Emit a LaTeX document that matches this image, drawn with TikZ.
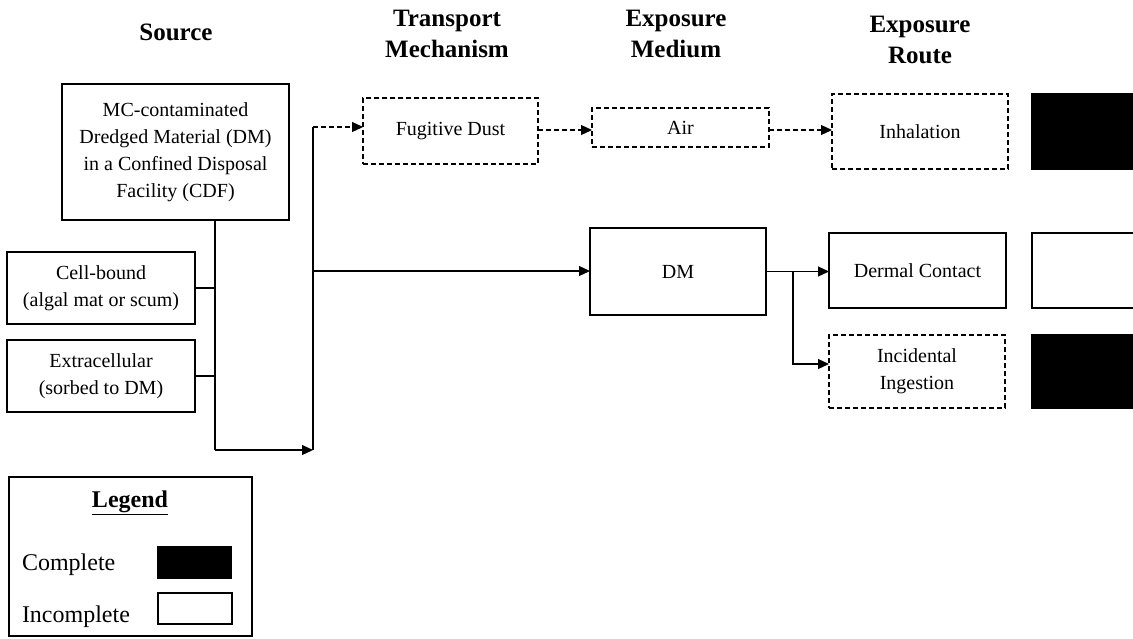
\documentclass[tikz,border=0pt]{standalone}
\usepackage{fontspec}
\setmainfont{Liberation Serif}
\usetikzlibrary{arrows.meta}
\begin{document}
\begin{tikzpicture}[x=1pt,y=-1pt,
  every node/.style={inner sep=0pt, outer sep=0pt},
  box/.style={draw, line width=1.2pt, align=center, font=\fontsize{20}{27}\selectfont},
  dbox/.style={box, dash pattern=on 5pt off 3pt},
  conn/.style={line width=1.2pt},
  arr/.style={conn, -{Triangle[length=11pt,width=10pt]}},
  darr/.style={arr, dash pattern=on 5pt off 3pt},
  head/.style={align=center, font=\fontsize{25}{31}\selectfont\bfseries, anchor=north},
  status/.style={draw, line width=1.2pt, minimum width=130pt, minimum height=75pt},
  legtext/.style={font=\fontsize{24}{28}\selectfont, anchor=base west},
]
\useasboundingbox (0,0) rectangle (1133,638);

% headers
\node[head] (h1) at (176,24) {Source};
\node[head] (h2) at (447,10) {Transport\\Mechanism};
\node[head] (h3) at (676,10) {Exposure\\Medium};
\node[head] (h4) at (920,16) {Exposure\\Route};

% source
\node[box, minimum width=227pt, minimum height=136pt] (src) at (175.5,152) {MC-contaminated\\Dredged Material (DM)\\in a Confined Disposal\\Facility (CDF)};
\node[box, minimum width=188pt, minimum height=72pt] (cell) at (101,288) {Cell-bound\\(algal mat or scum)};
\node[box, minimum width=188pt, minimum height=72pt] (extra) at (101,376) {Extracellular\\(sorbed to DM)};

% transport / medium / route
\node[dbox, minimum width=175pt, minimum height=66pt] (fd) at (450.5,131) {Fugitive Dust};
\node[dbox, minimum width=177pt, minimum height=39pt] (air) at (680.5,127.5) {Air};
\node[dbox, minimum width=176pt, minimum height=75pt] (inh) at (920,131.5) {Inhalation};
\node[box, minimum width=176pt, minimum height=87pt] (dm) at (678,271.5) {DM};
\node[box, minimum width=177pt, minimum height=75pt] (derm) at (917.5,270.5) {Dermal Contact};
\node[dbox, minimum width=176pt, minimum height=73pt] (ing) at (917,371.5) {Incidental\\Ingestion};

% status boxes
\node[status, fill=black] (s1) at (1097,131.5) {};
\node[status, fill=white] (s2) at (1097,270.5) {};
\node[status, fill=black, minimum height=73pt] (s3) at (1097,371.5) {};

% connectors
\coordinate (a) at (215,450);
\coordinate (b) at (313,450);
\coordinate (c) at (313,127);
\coordinate (d) at (313,271);
\coordinate (e) at (793,271);
\draw[conn] (src.south -| a) -- (a);
\draw[conn] (cell.east) -- (cell.east -| a);
\draw[conn] (extra.east) -- (extra.east -| a);
\draw[arr] (a) -- (b);
\draw[conn] (b) -- (c);
\draw[darr] (c) -- (c -| fd.west);
\draw[arr] (d) -- (d -| dm.west);
\draw[darr] (fd.east |- 0,130) -- (air.west |- 0,130);
\draw[darr] (air.east |- 0,130) -- (inh.west |- 0,130);
\draw[arr] (dm.east) -- (dm.east -| derm.west);
\draw[arr] (e) |- (ing.west |- 0,364);

% legend
\node[draw, line width=1.2pt, minimum width=243pt, minimum height=159pt] (leg) at (130.5,556.5) {};
\node[font=\fontsize{24}{28}\selectfont\bfseries, anchor=base] (legt) at (130,507) {\underline{Legend}};
\node[legtext] (lc) at (22,570) {Complete};
\node[legtext] (li) at (22,622) {Incomplete};
\node[draw, line width=1.2pt, fill=black, minimum width=73pt, minimum height=31pt] (lcb) at (194.5,562.5) {};
\node[draw, line width=1.2pt, fill=white, minimum width=74pt, minimum height=31pt] (lib) at (195,608.5) {};
\end{tikzpicture}
\end{document}
